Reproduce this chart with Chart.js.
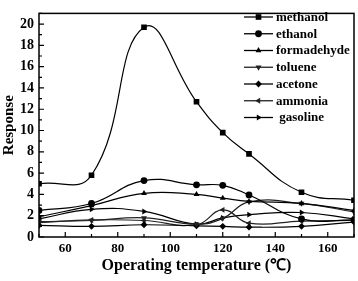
<!DOCTYPE html>
<html>
<head>
<meta charset="utf-8">
<script src="https://cdn.jsdelivr.net/npm/chart.js@4.4.1/dist/chart.umd.min.js"></script>
<style>
  body { margin: 0; background: #fff; }
  #wrap { width: 358px; height: 281px; }
</style>
</head>
<body>
<div id="wrap"><canvas id="lineChart" width="358" height="281"></canvas></div>
<script>
const temps = [50, 70, 90, 110, 120, 130, 150, 170];
const methanol    = [5.0, 5.8, 19.7, 12.7, 9.8, 7.8, 4.2, 3.45];
const ethanol     = [2.5, 3.15, 5.3, 4.9, 4.85, 3.95, 1.7, 1.6];
const formadehyde = [1.9, 2.95, 4.1, 4.0, 3.65, 3.35, 3.15, 2.5];
const toluene     = [1.45, 1.55, 1.8, 1.2, 1.75, 3.3, 3.15, 2.35];
const acetone     = [1.1, 1.0, 1.15, 1.05, 1.0, 0.92, 1.0, 1.4];
const ammonia     = [1.35, 1.6, 1.55, 1.15, 2.55, 1.3, 1.5, 1.55];
const gasoline    = [1.7, 2.6, 2.4, 1.2, 1.8, 2.1, 2.3, 1.7];

const xTickLabels = [60, 80, 100, 120, 140, 160];
const yTickLabels = [0, 2, 4, 6, 8, 10, 12, 14, 16, 18, 20];

const serif = '"Liberation Serif", "Times New Roman", serif';

function series(label, values, style, rotation, color) {
  return {
    label: label,
    data: temps.map((t, i) => ({ x: t, y: values[i] })),
    borderColor: color,
    backgroundColor: color,
    borderWidth: 1.2,
    pointStyle: style,
    rotation: rotation,
    pointRadius: style === 'rect' ? 4 : 3.4,
    pointBorderWidth: 0,
    tension: 0.45,
    fill: false
  };
}

const datasets = [
  series('methanol', methanol, 'rect', 0, '#000'),
  series('ethanol', ethanol, 'circle', 0, '#000'),
  series('formadehyde', formadehyde, 'triangle', 0, '#000'),
  series('toluene', toluene, 'triangle', 180, '#222'),
  series('acetone', acetone, 'rectRot', 0, '#000'),
  series('ammonia', ammonia, 'triangle', 270, '#222'),
  series('gasoline', gasoline, 'triangle', 90, '#000')
];

// frame, inward ticks and in-plot legend
const framePlugin = {
  id: 'frame',
  afterDraw(chart) {
    const ctx = chart.ctx;
    const a = chart.chartArea;
    const xs = chart.scales.x, ys = chart.scales.y;
    ctx.save();
    ctx.strokeStyle = '#000';
    ctx.lineWidth = 1.5;
    ctx.strokeRect(a.left, a.top, a.right - a.left, a.bottom - a.top);
    ctx.lineWidth = 1.2;
    ctx.beginPath();
    xs.ticks.forEach(t => {
      const px = xs.getPixelForValue(t.value);
      const len = xTickLabels.includes(t.value) ? 5 : 3;
      ctx.moveTo(px, a.bottom);
      ctx.lineTo(px, a.bottom - len);
    });
    ys.ticks.forEach(t => {
      const py = ys.getPixelForValue(t.value);
      const len = yTickLabels.includes(t.value) ? 5 : 3;
      ctx.moveTo(a.left, py);
      ctx.lineTo(a.left + len, py);
    });
    ctx.stroke();

    // legend
    ctx.font = 'bold 13px ' + serif;
    ctx.textBaseline = 'middle';
    ctx.textAlign = 'left';
    chart.data.datasets.forEach((ds, i) => {
      const y = 17 + i * 16.75;
      ctx.strokeStyle = ds.borderColor;
      ctx.fillStyle = ds.borderColor;
      ctx.lineWidth = 1.3;
      ctx.beginPath();
      ctx.moveTo(244, y);
      ctx.lineTo(273, y);
      ctx.stroke();
      Chart.helpers.drawPoint(ctx, {
        pointStyle: ds.pointStyle,
        rotation: ds.rotation,
        radius: ds.pointRadius,
        borderWidth: 0
      }, 258.5, y);
      ctx.fillStyle = '#000';
      ctx.fillText((ds.label === 'gasoline' ? ' ' : '') + ds.label, 276, y + 0.5);
    });
    ctx.restore();
  }
};

const ctx = document.getElementById('lineChart').getContext('2d');
new Chart(ctx, {
  type: 'line',
  data: { datasets: datasets },
  options: {
    responsive: false,
    animation: false,
    devicePixelRatio: 1,
    layout: { padding: { top: 1, right: 3, left: 0, bottom: 0 } },
    plugins: { legend: { display: false }, tooltip: { enabled: false } },
    scales: {
      x: {
        type: 'linear',
        min: 50,
        max: 170,
        grid: { display: false, drawTicks: false, tickLength: 0 },
        border: { display: false },
        afterFit: s => { s.height = 44; },
        ticks: {
          stepSize: 10,
          autoSkip: false,
          maxRotation: 0,
          padding: 4,
          color: '#000',
          font: { family: serif, size: 13, weight: 'bold' },
          callback: v => xTickLabels.includes(v) ? String(v) : ''
        },
        title: {
          display: true,
          text: 'Operating temperature (℃)',
          color: '#000',
          font: { family: serif, size: 16, weight: 'bold' },
          padding: { top: 2, bottom: 6 }
        }
      },
      y: {
        min: 0,
        max: 21,
        grid: { display: false, drawTicks: false, tickLength: 0 },
        border: { display: false },
        afterFit: s => { s.width = 39; },
        ticks: {
          stepSize: 1,
          autoSkip: false,
          padding: 5,
          color: '#000',
          font: { family: serif, size: 14, weight: 'bold' },
          callback: v => yTickLabels.includes(v) ? String(v) : ''
        },
        title: {
          display: true,
          text: 'Response',
          color: '#000',
          font: { family: serif, size: 15, weight: 'bold' },
          padding: { top: 0, bottom: 2 }
        }
      }
    }
  },
  plugins: [framePlugin]
});
</script>
</body>
</html>
